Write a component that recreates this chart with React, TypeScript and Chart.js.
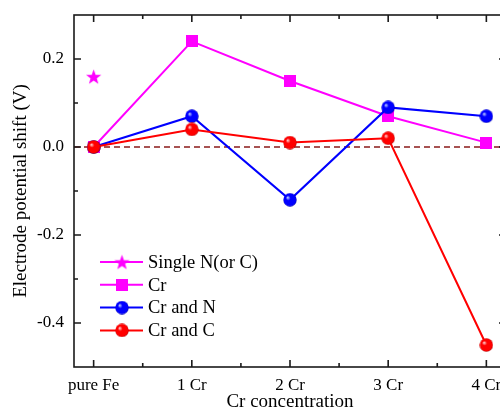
import { useEffect, useRef } from "react";
import { Chart, registerables } from "chart.js";

Chart.register(...registerables);

// Cr content categories along the x axis
const concentrations = ["pure Fe", "1 Cr", "2 Cr", "3 Cr", "4 Cr"];

// Electrode potential shift (V) for each doping case
const singleNorC = [0.16]; // only computed for pure Fe
const crOnly = [0, 0.24, 0.15, 0.07, 0.01];
const crAndN = [0, 0.07, -0.12, 0.09, 0.07];
const crAndC = [0, 0.04, 0.01, 0.02, -0.45];

// Axis ticks
const yMajorTicks = [-0.4, -0.2, 0.0, 0.2];
const yMinorTicks = [-0.3, -0.1, 0.1];
const xMinorTicks = [0.5, 1.5, 2.5, 3.5];

const MAGENTA = "#ff00ff";
const BLUE = "#0000ff";
const RED = "#ff0000";
const FONT = "'Liberation Serif', 'Times New Roman', serif";

function makeBall(base: string, dark: string, light: string, d = 14) {
  const c = document.createElement("canvas");
  c.width = d;
  c.height = d;
  const g = c.getContext("2d")!;
  const r = d / 2;
  const grad = g.createRadialGradient(r - 2.4, r - 2.4, 0.4, r, r, r);
  grad.addColorStop(0, light);
  grad.addColorStop(0.3, base);
  grad.addColorStop(0.85, base);
  grad.addColorStop(1, dark);
  g.fillStyle = grad;
  g.beginPath();
  g.arc(r, r, r - 0.3, 0, Math.PI * 2);
  g.fill();
  return c;
}

function makeSquare(color: string, side = 12) {
  const c = document.createElement("canvas");
  c.width = side;
  c.height = side;
  const g = c.getContext("2d")!;
  g.fillStyle = color;
  g.fillRect(0, 0, side, side);
  return c;
}

function makeStar(color: string, outer = 8, inner = 3.3) {
  const d = Math.ceil(outer * 2) + 1;
  const c = document.createElement("canvas");
  c.width = d;
  c.height = d;
  const g = c.getContext("2d")!;
  const cx = d / 2;
  const cy = d / 2 + 0.8;
  g.fillStyle = color;
  g.beginPath();
  for (let i = 0; i < 10; i++) {
    const rad = i % 2 === 0 ? outer : inner;
    const a = -Math.PI / 2 + (i * Math.PI) / 5;
    const px = cx + rad * Math.cos(a);
    const py = cy + rad * Math.sin(a);
    if (i === 0) g.moveTo(px, py);
    else g.lineTo(px, py);
  }
  g.closePath();
  g.fill();
  return c;
}

const toPoints = (vals: number[]) => vals.map((y, i) => ({ x: i, y }));

export default function App() {
  const canvasRef = useRef<HTMLCanvasElement | null>(null);

  useEffect(() => {
    const canvas = canvasRef.current;
    if (!canvas) return;

    const starImg = makeStar(MAGENTA);
    const squareImg = makeSquare(MAGENTA);
    const blueBall = makeBall(BLUE, "#00009a", "#b8c8ff");
    const redBall = makeBall(RED, "#a00000", "#ffc8c8");

    const legendItems = [
      { label: "Single N(or C)", color: MAGENTA, img: starImg },
      { label: "Cr", color: MAGENTA, img: squareImg },
      { label: "Cr and N", color: BLUE, img: blueBall },
      { label: "Cr and C", color: RED, img: redBall },
    ];

    const framePlugin = {
      id: "frame",
      beforeDatasetsDraw(chart: any) {
        const { ctx, chartArea } = chart;
        const y0 = chart.scales.y.getPixelForValue(0);
        ctx.save();
        ctx.strokeStyle = "#8b1a1a";
        ctx.lineWidth = 1.4;
        ctx.setLineDash([6, 4]);
        ctx.beginPath();
        ctx.moveTo(chartArea.left, y0);
        ctx.lineTo(chartArea.right, y0);
        ctx.stroke();
        ctx.restore();
      },
      afterDraw(chart: any) {
        const { ctx, chartArea } = chart;
        const { left, right, top, bottom } = chartArea;
        const xs = chart.scales.x;
        const ys = chart.scales.y;
        ctx.save();
        ctx.strokeStyle = "#1a1a1a";
        ctx.lineWidth = 1.6;
        ctx.strokeRect(left, top, right - left, bottom - top);

        const major = 7;
        const minor = 4;
        ctx.beginPath();
        concentrations.forEach((_, i) => {
          const px = xs.getPixelForValue(i);
          ctx.moveTo(px, bottom);
          ctx.lineTo(px, bottom - major);
          ctx.moveTo(px, top);
          ctx.lineTo(px, top + major);
        });
        xMinorTicks.forEach((v) => {
          const px = xs.getPixelForValue(v);
          ctx.moveTo(px, bottom);
          ctx.lineTo(px, bottom - minor);
          ctx.moveTo(px, top);
          ctx.lineTo(px, top + minor);
        });
        yMajorTicks.forEach((v) => {
          const py = ys.getPixelForValue(v);
          ctx.moveTo(left, py);
          ctx.lineTo(left + major, py);
          ctx.moveTo(right, py);
          ctx.lineTo(right - major, py);
        });
        yMinorTicks.forEach((v) => {
          const py = ys.getPixelForValue(v);
          ctx.moveTo(left, py);
          ctx.lineTo(left + minor, py);
          ctx.moveTo(right, py);
          ctx.lineTo(right - minor, py);
        });
        ctx.stroke();

        // legend: line + marker + label
        const rowStart = bottom - 105;
        const rowGap = 22.8;
        ctx.font = `18.5px ${FONT}`;
        ctx.textBaseline = "middle";
        ctx.textAlign = "left";
        legendItems.forEach((item, i) => {
          const y = rowStart + i * rowGap;
          ctx.strokeStyle = item.color;
          ctx.lineWidth = 2;
          ctx.beginPath();
          ctx.moveTo(left + 26, y);
          ctx.lineTo(left + 69, y);
          ctx.stroke();
          const im = item.img;
          ctx.drawImage(im, left + 48 - im.width / 2, y - im.height / 2);
          ctx.fillStyle = "#000";
          ctx.fillText(item.label, left + 74, y + 1);
        });
        ctx.restore();
      },
    };

    const chart = new Chart(canvas, {
      type: "line",
      data: {
        datasets: [
          {
            label: "Cr and C",
            data: toPoints(crAndC),
            borderColor: RED,
            backgroundColor: RED,
            borderWidth: 2,
            pointStyle: redBall as any,
            order: 0,
          },
          {
            label: "Cr and N",
            data: toPoints(crAndN),
            borderColor: BLUE,
            backgroundColor: BLUE,
            borderWidth: 2,
            pointStyle: blueBall as any,
            order: 1,
          },
          {
            label: "Cr",
            data: toPoints(crOnly),
            borderColor: MAGENTA,
            backgroundColor: MAGENTA,
            borderWidth: 2,
            pointStyle: squareImg as any,
            order: 2,
          },
          {
            label: "Single N(or C)",
            data: toPoints(singleNorC),
            borderColor: MAGENTA,
            backgroundColor: MAGENTA,
            showLine: false,
            pointStyle: starImg as any,
            order: 3,
          },
        ],
      },
      options: {
        animation: false,
        responsive: false,
        devicePixelRatio: 1,
        layout: { padding: { top: 15, right: 14, left: 0, bottom: 0 } },
        plugins: {
          legend: { display: false },
          tooltip: { enabled: false },
        },
        elements: { line: { tension: 0 } },
        scales: {
          x: {
            type: "linear",
            min: -0.2,
            max: 4.2,
            grid: { display: false, drawTicks: false },
            border: { display: false },
            ticks: {
              stepSize: 1,
              includeBounds: false,
              autoSkip: false,
              maxRotation: 0,
              padding: 8,
              color: "#000",
              font: { family: FONT, size: 17 },
              callback: (v: any) => concentrations[v as number] ?? "",
            },
            title: {
              display: true,
              text: "Cr concentration",
              color: "#000",
              font: { family: FONT, size: 19, lineHeight: 1 },
              padding: { top: 0, bottom: 0 },
            },
            afterFit: (s: any) => {
              s.height = 45;
              s.paddingLeft = 0;
              s.paddingRight = 0;
            },
          },
          y: {
            min: -0.5,
            max: 0.3,
            grid: { display: false, drawTicks: false },
            border: { display: false },
            ticks: {
              stepSize: 0.1,
              includeBounds: false,
              autoSkip: false,
              padding: 10,
              color: "#000",
              font: { family: FONT, size: 17 },
              callback: (v: any) => {
                const k = Math.round((v as number) * 10);
                return yMajorTicks.some((t) => Math.round(t * 10) === k)
                  ? (k / 10).toFixed(1)
                  : "";
              },
            },
            title: {
              display: true,
              text: "Electrode potential shift (V)",
              color: "#000",
              font: { family: FONT, size: 19, lineHeight: 1 },
              padding: { top: 12, bottom: 0 },
            },
            afterFit: (s: any) => {
              s.width = 74;
              s.paddingTop = 0;
              s.paddingBottom = 0;
            },
          },
        },
      },
      plugins: [framePlugin],
    });

    return () => chart.destroy();
  }, []);

  return (
    <div
      style={{
        position: "fixed",
        left: 0,
        top: 0,
        width: 500,
        height: 412,
        overflow: "hidden",
        background: "#fff",
      }}
    >
      <canvas ref={canvasRef} width={520} height={412} style={{ display: "block" }} />
    </div>
  );
}
